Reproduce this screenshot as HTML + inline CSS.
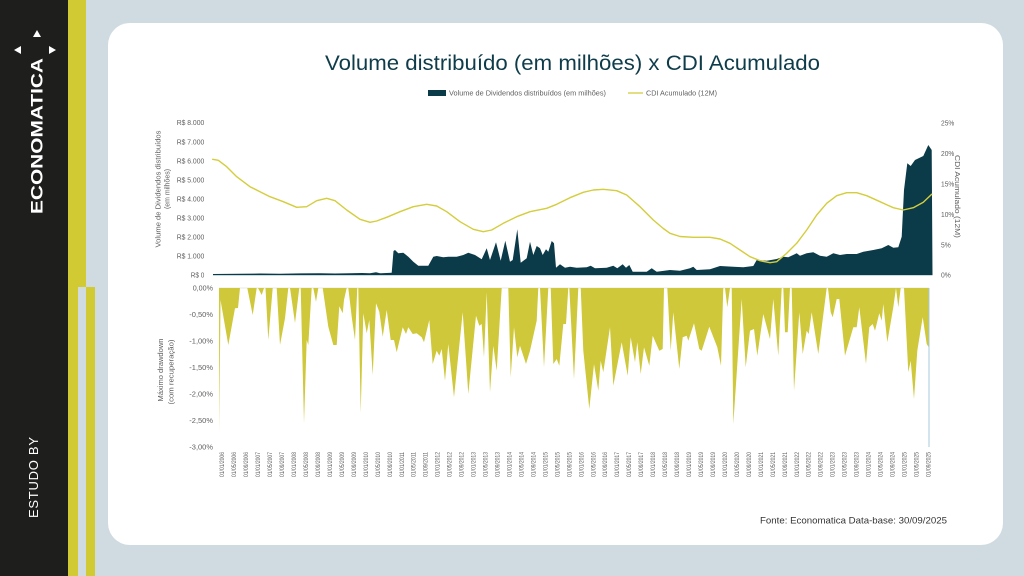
<!DOCTYPE html>
<html>
<head>
<meta charset="utf-8">
<style>
  html,body{margin:0;padding:0;width:1024px;height:576px;overflow:hidden;background:#cfdbe0;}
  svg{display:block;}
  .t{font-family:"Liberation Sans",Arial,sans-serif;fill:#5f5f5f;font-size:7.5px;}
  .xl{font-family:"Liberation Sans",Arial,sans-serif;fill:#5f5f5f;font-size:6.8px;}
</style>
</head>
<body>
<svg width="1024" height="576" viewBox="0 0 1024 576" xmlns="http://www.w3.org/2000/svg">
  <!-- background -->
  <rect x="0" y="0" width="1024" height="576" fill="#cfdbe0"/>
  <!-- sidebar -->
  <rect x="0" y="0" width="68" height="576" fill="#1e1e1d"/>
  <rect x="68" y="0" width="18" height="287" fill="#d2ca33"/>
  <rect x="68" y="287" width="10" height="289" fill="#d2ca33"/>
  <rect x="86" y="287" width="9" height="289" fill="#d2ca33"/>
  <!-- ECONOMATICA logo -->
  <text transform="translate(42.5,214) rotate(-90)" font-family="Liberation Sans, Arial, sans-serif" font-weight="bold" font-size="17" fill="#ffffff" textLength="156" lengthAdjust="spacingAndGlyphs">ECONOMATICA</text>
  <polygon points="37,30 41,37 33,37" fill="#ffffff"/>
  <polygon points="14,50 21,46 21,54" fill="#ffffff"/>
  <polygon points="56,50 49,46 49,54" fill="#ffffff"/>
  <text transform="translate(38,518) rotate(-90)" font-family="Liberation Sans, Arial, sans-serif" font-size="13" fill="#ffffff" textLength="81" lengthAdjust="spacing">ESTUDO BY</text>

  <!-- card -->
  <rect x="108" y="23" width="895" height="522" rx="22" ry="22" fill="#ffffff"/>

  <!-- title -->
  <text x="325" y="70" font-family="Liberation Sans, Arial, sans-serif" font-size="21" fill="#0f3c4a" textLength="495" lengthAdjust="spacingAndGlyphs">Volume distribuído (em milhões) x CDI Acumulado</text>

  <!-- legend -->
  <rect x="428" y="90" width="18" height="6" fill="#0b3a48"/>
  <text class="t" x="449" y="95.5" textLength="157" lengthAdjust="spacingAndGlyphs">Volume de Dividendos distribuídos (em milhões)</text>
  <line x1="628" y1="93" x2="643" y2="93" stroke="#d4cd3c" stroke-width="1.3"/>
  <text class="t" x="646" y="95.5" textLength="71" lengthAdjust="spacingAndGlyphs">CDI Acumulado (12M)</text>

  <!-- left axis labels top -->
  <g class="t" text-anchor="end">
    <text x="204.3" y="125.2" textLength="27.6" lengthAdjust="spacingAndGlyphs">R$ 8.000</text>
    <text x="204.3" y="144.3" textLength="27.6" lengthAdjust="spacingAndGlyphs">R$ 7.000</text>
    <text x="204.3" y="163.3" textLength="27.6" lengthAdjust="spacingAndGlyphs">R$ 6.000</text>
    <text x="204.3" y="182.4" textLength="27.6" lengthAdjust="spacingAndGlyphs">R$ 5.000</text>
    <text x="204.3" y="201.5" textLength="27.6" lengthAdjust="spacingAndGlyphs">R$ 4.000</text>
    <text x="204.3" y="220.5" textLength="27.6" lengthAdjust="spacingAndGlyphs">R$ 3.000</text>
    <text x="204.3" y="239.6" textLength="27.6" lengthAdjust="spacingAndGlyphs">R$ 2.000</text>
    <text x="204.3" y="258.6" textLength="27.6" lengthAdjust="spacingAndGlyphs">R$ 1.000</text>
    <text x="204.3" y="277.7" textLength="13.6" lengthAdjust="spacingAndGlyphs">R$ 0</text>
  </g>
  <!-- right axis labels -->
  <g class="t">
    <text x="941" y="125.4" textLength="13.3" lengthAdjust="spacingAndGlyphs">25%</text>
    <text x="941" y="155.9" textLength="13.3" lengthAdjust="spacingAndGlyphs">20%</text>
    <text x="941" y="186.4" textLength="13.3" lengthAdjust="spacingAndGlyphs">15%</text>
    <text x="941" y="216.8" textLength="13.3" lengthAdjust="spacingAndGlyphs">10%</text>
    <text x="941" y="247.3" textLength="9.8" lengthAdjust="spacingAndGlyphs">5%</text>
    <text x="941" y="277.7" textLength="9.8" lengthAdjust="spacingAndGlyphs">0%</text>
  </g>
  <!-- axis titles -->
  <text class="t" text-anchor="middle" transform="translate(160.3,189) rotate(-90)" textLength="117" lengthAdjust="spacingAndGlyphs">Volume de Dividendos distribuídos</text>
  <text class="t" text-anchor="middle" transform="translate(169.7,189) rotate(-90)" textLength="40" lengthAdjust="spacingAndGlyphs">(em milhões)</text>
  <text class="t" text-anchor="middle" transform="translate(955,196.5) rotate(90)" textLength="83" lengthAdjust="spacingAndGlyphs">CDI Acumulado (12M)</text>
  <text class="t" text-anchor="middle" transform="translate(163,370) rotate(-90)" textLength="63" lengthAdjust="spacingAndGlyphs">Máximo drawdown</text>
  <text class="t" text-anchor="middle" transform="translate(173.5,372) rotate(-90)" textLength="65" lengthAdjust="spacingAndGlyphs">(com recuperação)</text>

  <!-- top chart: dividends area -->
  <polygon fill="#0b3a48" points="213,275 213,274 240,273.8 260,273.5 280,273.7 300,273.4 320,273.2 335,273.5 350,273.3 362,273 370,273.3 376,272.3 380,273.3 391.7,272.7 393.5,251 395,250 398.3,253.3 403.3,252.7 408.3,256.7 413.3,261.7 418.3,265.7 428.3,265.7 433.3,256.7 436.7,256 443.3,257.3 448.3,256.7 456.7,256.7 463.3,255 468.3,252.7 475,255 481.7,259.3 486.7,248.3 490,260 496,242.3 500.7,260.7 505.3,240.7 510,261.7 512.7,260 517.3,229.3 520.7,262.7 526.7,258.3 530,241.7 533.3,255 536.7,246 540,248.3 542.7,255 546,249.3 548.3,251.7 551.7,241 554,243.3 556,267.7 560,264.3 565,267.7 570,266.7 576.7,267.7 586.7,267.3 590.7,265.7 595,268.3 606.7,267.7 613.3,265.7 617.3,268.3 622.7,264.3 626,267.7 629.3,265 632.7,271.7 646.7,271.7 651.7,268.3 656.7,271.7 670,270 680,270.7 690,268.3 693.3,266.7 696.7,270 710,269.3 720,266 733.3,266.7 743.3,267.3 753.3,266 756.7,260 766.7,260.7 776.7,259 783.3,256.7 788.3,257.3 796.7,253.3 800,255.7 806.7,253.3 813.3,252.3 820,255.7 826.7,256.7 833.3,253.3 840,255 846.7,254 856.7,254 863.3,251.7 873.3,250 881.7,248.3 888.3,245 893.3,247.7 898.3,247.3 901.7,236.7 904,190 907.3,163.3 910.7,166 915,160 923.3,156 928.3,145 931.7,150 932.5,275"/>
  <line x1="213" y1="275.5" x2="932.5" y2="275.5" stroke="#b9ccd4" stroke-width="0.8"/>

  <!-- CDI line -->
  <polyline fill="none" stroke="#d4cd3c" stroke-width="1.4" stroke-linejoin="round" stroke-linecap="round" points="212.7,159.3 218.3,160.3 226.7,166.7 236.7,176.7 250,186.7 260,191.7 270,196.7 283.3,201.7 296.7,207.3 306.7,206.7 316.7,200.7 326.7,198.3 335,200.7 346.7,210 360,219.3 370,222.3 376.7,221 386.7,217.3 400,211.7 413.3,206.7 426.7,204.3 436.7,206 446.7,211.7 460,221.7 473.3,229.3 483.3,231.7 491.7,230 503.3,223.3 516.7,216.7 530,211.7 546.7,208.3 556.7,204.3 570,197.7 583.3,192.3 593.3,190 603.3,189.3 616.7,190.7 626.7,195 640,206.7 653.3,220 663.3,228.5 670,233.3 680,236.5 693.3,237.3 710,237.3 720,239 730,243.3 740,250 750,256.7 760,260.7 770,262.7 776.7,261.7 786.7,253.3 796.7,243.3 806.7,230 816.7,215 826.7,203.3 836.7,195.7 846.7,192.7 856.7,192.7 866.7,195.7 880,201.7 893.3,207.7 903.3,210 913.3,207.7 923.3,202.3 931.7,194.3"/>

  <!-- bottom axis labels -->
  <g class="t" text-anchor="end">
    <text x="213" y="290.7" textLength="20.3" lengthAdjust="spacingAndGlyphs">0,00%</text>
    <text x="213" y="317.2" textLength="23.7" lengthAdjust="spacingAndGlyphs">-0,50%</text>
    <text x="213" y="343.7" textLength="23.7" lengthAdjust="spacingAndGlyphs">-1,00%</text>
    <text x="213" y="370.2" textLength="23.7" lengthAdjust="spacingAndGlyphs">-1,50%</text>
    <text x="213" y="396.7" textLength="23.7" lengthAdjust="spacingAndGlyphs">-2,00%</text>
    <text x="213" y="423.2" textLength="23.7" lengthAdjust="spacingAndGlyphs">-2,50%</text>
    <text x="213" y="449.7" textLength="23.7" lengthAdjust="spacingAndGlyphs">-3,00%</text>
  </g>

  <!-- bottom chart: drawdown -->
  <line x1="219" y1="288" x2="929" y2="288" stroke="#e3e3d8" stroke-width="0.8"/>
  <polygon fill="#cfc83a" points="219,288 219.3,432 220.5,300 228.3,345 235,308.3 238,308 240,288 247.3,288 252.7,315 256.7,288 258,288 261.7,295 264,288 265.5,288 268.3,340 272.7,288 276.7,288 280,345 285,318.3 288.3,288 290,288 295,323 299.3,288 300.7,288 304,423.3 306.7,340 308.3,345 311.7,288 313.3,288 316,301.7 318.3,288 322.7,288 328.3,326.7 333.3,345 336.7,345 339.3,306.3 342.7,313.3 344,300 346.7,288 348.3,288 351.7,316.7 355,340 357.3,288 358.3,288 360.7,413.3 363.3,313.3 366.7,333.3 369.3,320 372.7,375 376,303.3 379.3,311.7 382.7,336.7 386.7,310 390.7,340 394,340 396.7,352.3 402.7,327.3 406,334 408.3,327.3 412.7,334 416.7,333.3 421.7,337.3 424,342.3 429.3,320 432.7,364 436.7,350.7 439.3,355.7 441.7,349 445,380.7 448.3,344 454,397.3 462.7,312.3 468.3,394 476,315.7 479.3,325.7 481.7,324 484,357.3 486.7,292.3 490,392.3 493.3,345.7 496.7,370.7 501.7,288 508.3,288 510.7,377.3 514,327.3 517.3,357.3 520,345.7 526,364 530,350.7 536.7,320.7 538.3,288 540,288 544,367.3 548.3,288 550.7,288 553.3,364 556.7,359 559.3,365.7 563.3,324 566,324 568.3,288 569.3,288 574,379 578.3,288 580.7,288 583.3,350.7 589.3,409 594,364 598.3,390.7 600.7,360.7 603.3,372.3 610,327.3 613.3,385.7 621.7,342.3 627.7,375.7 630.7,337.3 635,362.3 637.3,342.3 640.7,374 644,347.3 649.3,365.7 652.7,335.7 659.3,350.7 662.7,349 664,288 667.3,288 670.7,350.7 673.3,312.3 679.3,369 682.7,337.3 686.7,335.7 688.3,340.7 694,323.3 699.3,349 701.7,350.7 709.3,326.7 717.3,347.3 721,365.7 723.3,288 725,288 727.3,307.3 730,288 731.7,288 733.3,424 741.7,299 745.7,367.3 750,330.7 754,329 757.3,355.7 763.3,314 770,339 773.3,299 778.3,355.7 781.7,288 783.3,288 785,332.3 787.7,332.3 790,288 791.7,288 794,390.7 799.3,312.3 802.7,354 806.7,330.7 808.7,334 811.7,312.3 818.3,354 826.7,288 828,288 830.7,312.3 832.7,317.3 836.7,299 839.3,299 845,355.7 853.3,327.3 856.7,327.3 859.3,307.3 866,364 869.3,327.3 872.7,324 875,330.7 879.3,313.3 881.7,320.7 883.3,304 887.3,342.3 893.3,307.3 896,288 898.3,307.3 900.7,288 904,288 908.3,372.3 910.7,360.7 914,399 917.3,350.7 922.7,317.3 926.7,344 928.7,347.3 928.7,288"/>
  <line x1="929" y1="288" x2="929" y2="447" stroke="#9cc6dc" stroke-width="0.9"/>

  <!-- x axis labels -->
  <g class="xl">
    <text transform="translate(224.2,477) rotate(-90)" textLength="25" lengthAdjust="spacingAndGlyphs">01/01/2006</text>
    <text transform="translate(236.2,477) rotate(-90)" textLength="25" lengthAdjust="spacingAndGlyphs">01/05/2006</text>
    <text transform="translate(248.1,477) rotate(-90)" textLength="25" lengthAdjust="spacingAndGlyphs">01/09/2006</text>
    <text transform="translate(260.1,477) rotate(-90)" textLength="25" lengthAdjust="spacingAndGlyphs">01/01/2007</text>
    <text transform="translate(272.1,477) rotate(-90)" textLength="25" lengthAdjust="spacingAndGlyphs">01/05/2007</text>
    <text transform="translate(284.1,477) rotate(-90)" textLength="25" lengthAdjust="spacingAndGlyphs">01/09/2007</text>
    <text transform="translate(296.0,477) rotate(-90)" textLength="25" lengthAdjust="spacingAndGlyphs">01/01/2008</text>
    <text transform="translate(308.0,477) rotate(-90)" textLength="25" lengthAdjust="spacingAndGlyphs">01/05/2008</text>
    <text transform="translate(320.0,477) rotate(-90)" textLength="25" lengthAdjust="spacingAndGlyphs">01/09/2008</text>
    <text transform="translate(331.9,477) rotate(-90)" textLength="25" lengthAdjust="spacingAndGlyphs">01/01/2009</text>
    <text transform="translate(343.9,477) rotate(-90)" textLength="25" lengthAdjust="spacingAndGlyphs">01/05/2009</text>
    <text transform="translate(355.9,477) rotate(-90)" textLength="25" lengthAdjust="spacingAndGlyphs">01/09/2009</text>
    <text transform="translate(367.8,477) rotate(-90)" textLength="25" lengthAdjust="spacingAndGlyphs">01/01/2010</text>
    <text transform="translate(379.8,477) rotate(-90)" textLength="25" lengthAdjust="spacingAndGlyphs">01/05/2010</text>
    <text transform="translate(391.8,477) rotate(-90)" textLength="25" lengthAdjust="spacingAndGlyphs">01/09/2010</text>
    <text transform="translate(403.8,477) rotate(-90)" textLength="25" lengthAdjust="spacingAndGlyphs">01/01/2011</text>
    <text transform="translate(415.7,477) rotate(-90)" textLength="25" lengthAdjust="spacingAndGlyphs">01/05/2011</text>
    <text transform="translate(427.7,477) rotate(-90)" textLength="25" lengthAdjust="spacingAndGlyphs">01/09/2011</text>
    <text transform="translate(439.7,477) rotate(-90)" textLength="25" lengthAdjust="spacingAndGlyphs">01/01/2012</text>
    <text transform="translate(451.6,477) rotate(-90)" textLength="25" lengthAdjust="spacingAndGlyphs">01/05/2012</text>
    <text transform="translate(463.6,477) rotate(-90)" textLength="25" lengthAdjust="spacingAndGlyphs">01/09/2012</text>
    <text transform="translate(475.6,477) rotate(-90)" textLength="25" lengthAdjust="spacingAndGlyphs">01/01/2013</text>
    <text transform="translate(487.5,477) rotate(-90)" textLength="25" lengthAdjust="spacingAndGlyphs">01/05/2013</text>
    <text transform="translate(499.5,477) rotate(-90)" textLength="25" lengthAdjust="spacingAndGlyphs">01/09/2013</text>
    <text transform="translate(511.5,477) rotate(-90)" textLength="25" lengthAdjust="spacingAndGlyphs">01/01/2014</text>
    <text transform="translate(523.5,477) rotate(-90)" textLength="25" lengthAdjust="spacingAndGlyphs">01/05/2014</text>
    <text transform="translate(535.4,477) rotate(-90)" textLength="25" lengthAdjust="spacingAndGlyphs">01/09/2014</text>
    <text transform="translate(547.4,477) rotate(-90)" textLength="25" lengthAdjust="spacingAndGlyphs">01/01/2015</text>
    <text transform="translate(559.4,477) rotate(-90)" textLength="25" lengthAdjust="spacingAndGlyphs">01/05/2015</text>
    <text transform="translate(571.3,477) rotate(-90)" textLength="25" lengthAdjust="spacingAndGlyphs">01/09/2015</text>
    <text transform="translate(583.3,477) rotate(-90)" textLength="25" lengthAdjust="spacingAndGlyphs">01/01/2016</text>
    <text transform="translate(595.3,477) rotate(-90)" textLength="25" lengthAdjust="spacingAndGlyphs">01/05/2016</text>
    <text transform="translate(607.2,477) rotate(-90)" textLength="25" lengthAdjust="spacingAndGlyphs">01/09/2016</text>
    <text transform="translate(619.2,477) rotate(-90)" textLength="25" lengthAdjust="spacingAndGlyphs">01/01/2017</text>
    <text transform="translate(631.2,477) rotate(-90)" textLength="25" lengthAdjust="spacingAndGlyphs">01/05/2017</text>
    <text transform="translate(643.2,477) rotate(-90)" textLength="25" lengthAdjust="spacingAndGlyphs">01/09/2017</text>
    <text transform="translate(655.1,477) rotate(-90)" textLength="25" lengthAdjust="spacingAndGlyphs">01/01/2018</text>
    <text transform="translate(667.1,477) rotate(-90)" textLength="25" lengthAdjust="spacingAndGlyphs">01/05/2018</text>
    <text transform="translate(679.1,477) rotate(-90)" textLength="25" lengthAdjust="spacingAndGlyphs">01/09/2018</text>
    <text transform="translate(691.0,477) rotate(-90)" textLength="25" lengthAdjust="spacingAndGlyphs">01/01/2019</text>
    <text transform="translate(703.0,477) rotate(-90)" textLength="25" lengthAdjust="spacingAndGlyphs">01/05/2019</text>
    <text transform="translate(715.0,477) rotate(-90)" textLength="25" lengthAdjust="spacingAndGlyphs">01/09/2019</text>
    <text transform="translate(726.9,477) rotate(-90)" textLength="25" lengthAdjust="spacingAndGlyphs">01/01/2020</text>
    <text transform="translate(738.9,477) rotate(-90)" textLength="25" lengthAdjust="spacingAndGlyphs">01/05/2020</text>
    <text transform="translate(750.9,477) rotate(-90)" textLength="25" lengthAdjust="spacingAndGlyphs">01/09/2020</text>
    <text transform="translate(762.9,477) rotate(-90)" textLength="25" lengthAdjust="spacingAndGlyphs">01/01/2021</text>
    <text transform="translate(774.8,477) rotate(-90)" textLength="25" lengthAdjust="spacingAndGlyphs">01/05/2021</text>
    <text transform="translate(786.8,477) rotate(-90)" textLength="25" lengthAdjust="spacingAndGlyphs">01/09/2021</text>
    <text transform="translate(798.8,477) rotate(-90)" textLength="25" lengthAdjust="spacingAndGlyphs">01/01/2022</text>
    <text transform="translate(810.7,477) rotate(-90)" textLength="25" lengthAdjust="spacingAndGlyphs">01/05/2022</text>
    <text transform="translate(822.7,477) rotate(-90)" textLength="25" lengthAdjust="spacingAndGlyphs">01/09/2022</text>
    <text transform="translate(834.7,477) rotate(-90)" textLength="25" lengthAdjust="spacingAndGlyphs">01/01/2023</text>
    <text transform="translate(846.6,477) rotate(-90)" textLength="25" lengthAdjust="spacingAndGlyphs">01/05/2023</text>
    <text transform="translate(858.6,477) rotate(-90)" textLength="25" lengthAdjust="spacingAndGlyphs">01/09/2023</text>
    <text transform="translate(870.6,477) rotate(-90)" textLength="25" lengthAdjust="spacingAndGlyphs">01/01/2024</text>
    <text transform="translate(882.6,477) rotate(-90)" textLength="25" lengthAdjust="spacingAndGlyphs">01/05/2024</text>
    <text transform="translate(894.5,477) rotate(-90)" textLength="25" lengthAdjust="spacingAndGlyphs">01/09/2024</text>
    <text transform="translate(906.5,477) rotate(-90)" textLength="25" lengthAdjust="spacingAndGlyphs">01/01/2025</text>
    <text transform="translate(918.5,477) rotate(-90)" textLength="25" lengthAdjust="spacingAndGlyphs">01/05/2025</text>
    <text transform="translate(930.4,477) rotate(-90)" textLength="25" lengthAdjust="spacingAndGlyphs">01/09/2025</text>
  </g>

  <!-- footer -->
  <text x="760" y="523.5" font-family="Liberation Sans, Arial, sans-serif" font-size="9.5" fill="#333333" textLength="187" lengthAdjust="spacingAndGlyphs">Fonte: Economatica Data-base: 30/09/2025</text>
</svg>
</body>
</html>
